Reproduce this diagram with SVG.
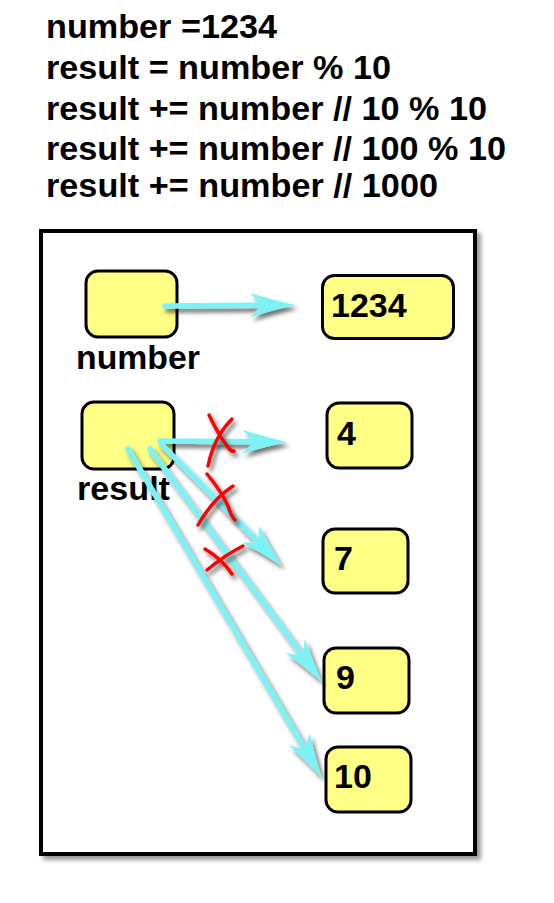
<svg xmlns="http://www.w3.org/2000/svg" width="554" height="903" viewBox="0 0 554 903">
  <defs>
    <style>
      .hdr { font-family: "Liberation Sans", Arial, sans-serif; font-weight: bold; font-size: 33px; fill: #000; }
      .lbl { font-family: "Liberation Sans", Arial, sans-serif; font-weight: bold; font-size: 34px; fill: #000; }
      .val { font-family: "Liberation Sans", Arial, sans-serif; font-weight: bold; font-size: 34px; fill: #000; }
      .box { fill: #FFFF85; stroke: #000; stroke-width: 3; }
      .arrow { fill: none; stroke: #7CF2F5; stroke-width: 5.5; stroke-linecap: round; marker-end: url(#head); }
      .cross { fill: none; stroke: #FF0000; stroke-width: 3.5; stroke-linecap: round; stroke-linejoin: round; }
    </style>
    <filter id="shadow" x="-10%" y="-10%" width="130%" height="130%">
      <feDropShadow dx="4" dy="4" stdDeviation="2" flood-color="#000" flood-opacity="0.4"/>
    </filter>
    <filter id="ashadow" x="-20%" y="-20%" width="150%" height="150%">
      <feDropShadow dx="3" dy="4" stdDeviation="2.2" flood-color="#000" flood-opacity="0.55"/>
    </filter>
    <marker id="head" viewBox="-25 -15 55 30" markerWidth="55" markerHeight="30" refX="0" refY="0" markerUnits="userSpaceOnUse" orient="auto" overflow="visible">
      <path d="M25,0 Q3,-5 -20,-12 L-8,0 L-20,12 Q3,5 25,0 Z" fill="#7CF2F5"/>
    </marker>
  </defs>

  <rect width="554" height="903" fill="#FFFFFF"/>

  <g id="code">
    <text class="hdr" x="46" y="38" textLength="231" lengthAdjust="spacingAndGlyphs">number =1234</text>
    <text class="hdr" x="46" y="79" textLength="345" lengthAdjust="spacingAndGlyphs">result = number % 10</text>
    <text class="hdr" x="46" y="120" textLength="441" lengthAdjust="spacingAndGlyphs">result += number // 10 % 10</text>
    <text class="hdr" x="46" y="160" textLength="460" lengthAdjust="spacingAndGlyphs">result += number // 100 % 10</text>
    <text class="hdr" x="46" y="197" textLength="392" lengthAdjust="spacingAndGlyphs">result += number // 1000</text>
  </g>

  <g id="frame">
    <rect x="41" y="231" width="434" height="623" fill="#FFFFFF" stroke="#000" stroke-width="4" filter="url(#shadow)"/>
  </g>

  <g id="var-number">
    <rect class="box" x="86" y="271" width="91" height="66" rx="12"/>
    <text class="lbl" x="76" y="369" textLength="124" lengthAdjust="spacingAndGlyphs">number</text>
  </g>
  <g id="var-result">
    <rect class="box" x="82" y="402" width="92" height="67" rx="12"/>
    <text class="lbl" x="77" y="500" textLength="93" lengthAdjust="spacingAndGlyphs">result</text>
  </g>
  <g id="val-1234">
    <rect class="box" x="322.5" y="275.5" width="131" height="63" rx="12"/>
    <text class="val" x="331" y="317">1234</text>
  </g>
  <g id="val-4">
    <rect class="box" x="327" y="403" width="85" height="65" rx="12"/>
    <text class="val" x="337" y="445">4</text>
  </g>
  <g id="val-7">
    <rect class="box" x="323" y="529" width="85" height="64" rx="12"/>
    <text class="val" x="334" y="570">7</text>
  </g>
  <g id="val-9">
    <rect class="box" x="324" y="648" width="85" height="65" rx="12"/>
    <text class="val" x="336" y="689">9</text>
  </g>
  <g id="val-10">
    <rect class="box" x="326" y="747" width="85" height="65" rx="12"/>
    <text class="val" x="334" y="788">10</text>
  </g>

  <g id="connectors" filter="url(#ashadow)">
    <line class="arrow" x1="165" y1="306" x2="270" y2="305.2"/>
    <line class="arrow" x1="160" y1="441" x2="262" y2="441.8"/>
    <line class="arrow" x1="162" y1="445" x2="264.4" y2="548.2"/>
    <line class="arrow" x1="150" y1="449" x2="307.2" y2="661.9"/>
    <line class="arrow" x1="128" y1="449" x2="309.3" y2="756.5"/>
  </g>

  <g id="crosses" filter="url(#ashadow)">
    <path class="cross" d="M209,415 Q219,436 228,447 Q231,452 234,451"/>
    <path class="cross" d="M232,419 Q214,437 208,466"/>
    <path class="cross" d="M207,474 Q222,492 228,506 Q231,516 235,520"/>
    <path class="cross" d="M233,486 Q213,499 198,525"/>
    <path class="cross" d="M205,549 Q222,559 232,574"/>
    <path class="cross" d="M243,546 Q225,555 207,570"/>
  </g>
</svg>
